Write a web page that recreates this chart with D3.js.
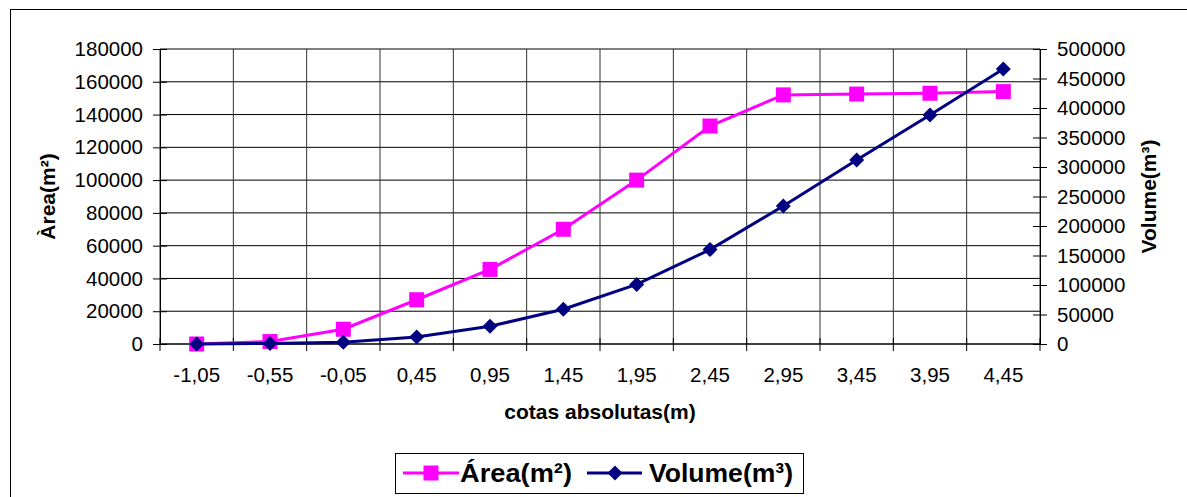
<!DOCTYPE html>
<html>
<head>
<meta charset="utf-8">
<script src="https://cdn.jsdelivr.net/npm/d3@7"></script>
<style>
  body { margin: 0; background: #fff; }
  svg { display: block; }
  text { font-family: "Liberation Sans", Arial, sans-serif; fill: #000; }
</style>
</head>
<body>
<svg id="chart" width="1187" height="497"></svg>
<script>
// Elevation levels (absolute heights, m)
const cotas = ["-1,05", "-0,55", "-0,05", "0,45", "0,95", "1,45", "1,95", "2,45", "2,95", "3,45", "3,95", "4,45"];
// Flooded area at each level (m²)
const area = [0, 1500, 9000, 27000, 45500, 70000, 100000, 133000, 152000, 152500, 153000, 154000];
// Accumulated volume at each level (m³)
const volume = [0, 1000, 3000, 12000, 30000, 59000, 101000, 160000, 234000, 312000, 388000, 466000];
// Axis ticks
const areaTicks = [0, 20000, 40000, 60000, 80000, 100000, 120000, 140000, 160000, 180000];
const volumeTicks = [0, 50000, 100000, 150000, 200000, 250000, 300000, 350000, 400000, 450000, 500000];

const AREA_COLOR = "#FF00FF";
const VOL_COLOR = "#000080";
const TICK_FONT = 20.5;

const svg = d3.select("#chart");
const plot = { left: 160, right: 1040, top: 49, bottom: 344 };

// outer frame
svg.append("rect")
  .attr("x", 10.5).attr("y", 9.5)
  .attr("width", 1200).attr("height", 500)
  .attr("fill", "none").attr("stroke", "#000").attr("stroke-width", 1);

const x = d3.scaleBand().domain(cotas).range([plot.left, plot.right]).padding(0);
const yA = d3.scaleLinear().domain([0, 180000]).range([plot.bottom, plot.top]);
const yV = d3.scaleLinear().domain([0, 500000]).range([plot.bottom, plot.top]);
const cx = c => x(c) + x.bandwidth() / 2;

// category boundaries
const bounds = cotas.map(c => x(c)).concat([plot.right]);

const g = svg.append("g");

// horizontal gridlines (left axis)
g.selectAll("line.hgrid").data(areaTicks).join("line")
  .attr("class", "hgrid")
  .attr("x1", plot.left).attr("x2", plot.right)
  .attr("y1", d => yA(d)).attr("y2", d => yA(d))
  .attr("stroke", "#000").attr("stroke-width", 1);

// vertical gridlines at category boundaries
g.selectAll("line.vgrid").data(bounds).join("line")
  .attr("class", "vgrid")
  .attr("x1", d => d).attr("x2", d => d)
  .attr("y1", plot.top).attr("y2", plot.bottom)
  .attr("stroke", "#333").attr("stroke-width", 1);

// left axis
const leftAxis = d3.axisLeft(yA).tickValues(areaTicks).tickFormat(d3.format("d"))
  .tickSizeInner(7).tickSizeOuter(0).tickPadding(10);
const gl = svg.append("g").attr("transform", `translate(${plot.left},0)`).call(leftAxis);
gl.select(".domain").attr("stroke", "#000");
gl.selectAll(".tick line").attr("x1", -7).attr("x2", 7).attr("stroke", "#000");
gl.selectAll(".tick text").attr("font-size", TICK_FONT).attr("font-family", "Liberation Sans, Arial, sans-serif");

// right axis
const rightAxis = d3.axisRight(yV).tickValues(volumeTicks).tickFormat(d3.format("d"))
  .tickSizeInner(7).tickSizeOuter(0).tickPadding(10);
const gr = svg.append("g").attr("transform", `translate(${plot.right},0)`).call(rightAxis);
gr.select(".domain").attr("stroke", "#000");
gr.selectAll(".tick line").attr("x1", -7).attr("x2", 7).attr("stroke", "#000");
gr.selectAll(".tick text").attr("font-size", TICK_FONT).attr("font-family", "Liberation Sans, Arial, sans-serif");

// bottom axis: labels centred in each category, ticks on boundaries
const bottomAxis = d3.axisBottom(x).tickSize(0).tickPadding(23);
const gb = svg.append("g").attr("transform", `translate(0,${plot.bottom})`).call(bottomAxis);
gb.select(".domain").remove();
gb.selectAll(".tick text").attr("font-size", TICK_FONT).attr("font-family", "Liberation Sans, Arial, sans-serif");
svg.append("line")
  .attr("x1", plot.left).attr("x2", plot.right)
  .attr("y1", plot.bottom).attr("y2", plot.bottom)
  .attr("stroke", "#000");
svg.selectAll("line.xtick").data(bounds).join("line")
  .attr("class", "xtick")
  .attr("x1", d => d).attr("x2", d => d)
  .attr("y1", plot.bottom - 6).attr("y2", plot.bottom + 7)
  .attr("stroke", "#000");

// axis titles
svg.append("text")
  .attr("transform", `translate(55,${(plot.top + plot.bottom) / 2}) rotate(-90)`)
  .attr("text-anchor", "middle").attr("font-size", 21).attr("font-weight", "bold")
  .text("Àrea(m²)");
svg.append("text")
  .attr("transform", `translate(1156,${(plot.top + plot.bottom) / 2}) rotate(-90)`)
  .attr("text-anchor", "middle").attr("font-size", 21).attr("font-weight", "bold")
  .text("Volume(m³)");
svg.append("text")
  .attr("x", (plot.left + plot.right) / 2).attr("y", 419)
  .attr("text-anchor", "middle").attr("font-size", 21).attr("font-weight", "bold")
  .text("cotas absolutas(m)");

// series
const areaLine = d3.line().x((d, i) => cx(cotas[i])).y(d => yA(d));
const volLine = d3.line().x((d, i) => cx(cotas[i])).y(d => yV(d));
const dpath = (cxp, cyp, r) => `M${cxp},${cyp - r}L${cxp + r},${cyp}L${cxp},${cyp + r}L${cxp - r},${cyp}Z`;

svg.append("path").datum(area)
  .attr("d", areaLine).attr("fill", "none")
  .attr("stroke", AREA_COLOR).attr("stroke-width", 3);
svg.selectAll("rect.amark").data(area).join("rect")
  .attr("class", "amark")
  .attr("x", (d, i) => cx(cotas[i]) - 7.5).attr("y", d => yA(d) - 7.5)
  .attr("width", 15).attr("height", 15)
  .attr("fill", AREA_COLOR);

svg.append("path").datum(volume)
  .attr("d", volLine).attr("fill", "none")
  .attr("stroke", VOL_COLOR).attr("stroke-width", 3);
svg.selectAll("path.vmark").data(volume).join("path")
  .attr("class", "vmark")
  .attr("d", (d, i) => dpath(cx(cotas[i]), yV(d), 7.5))
  .attr("fill", VOL_COLOR);

// legend
const lg = svg.append("g");
lg.append("rect")
  .attr("x", 395.5).attr("y", 453.5).attr("width", 408).attr("height", 40)
  .attr("fill", "#fff").attr("stroke", "#000");
const ly = 473;
lg.append("line").attr("x1", 403).attr("x2", 459).attr("y1", ly).attr("y2", ly)
  .attr("stroke", AREA_COLOR).attr("stroke-width", 3);
lg.append("rect").attr("x", 431 - 7.5).attr("y", ly - 7.5).attr("width", 15).attr("height", 15)
  .attr("fill", AREA_COLOR);
lg.append("text").attr("x", 460).attr("y", 482).attr("font-size", 26.5).attr("font-weight", "bold")
  .attr("textLength", 112).attr("lengthAdjust", "spacingAndGlyphs")
  .text("Área(m²)");
lg.append("line").attr("x1", 587).attr("x2", 642).attr("y1", ly).attr("y2", ly)
  .attr("stroke", VOL_COLOR).attr("stroke-width", 3);
lg.append("path").attr("d", dpath(615, ly, 7.5)).attr("fill", VOL_COLOR);
lg.append("text").attr("x", 649).attr("y", 482).attr("font-size", 26.5).attr("font-weight", "bold")
  .attr("textLength", 144).attr("lengthAdjust", "spacingAndGlyphs")
  .text("Volume(m³)");
</script>
</body>
</html>
